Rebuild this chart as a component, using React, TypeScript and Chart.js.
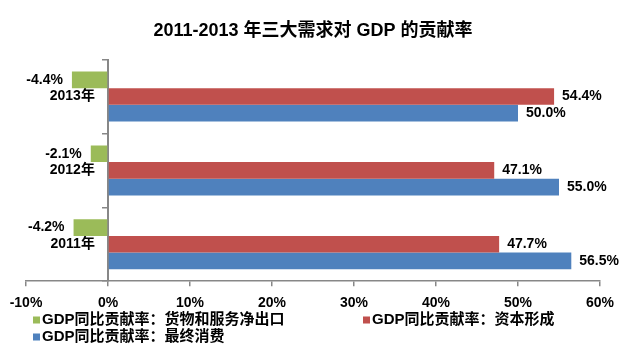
import React, { useEffect, useRef } from 'react';
import { Chart, registerables } from 'chart.js';

Chart.register(...registerables);

const chartTitle = '2011-2013 年三大需求对 GDP 的贡献率';
const categories = ['2013年', '2012年', '2011年'];
const netExports = [-4.4, -2.1, -4.2];
const capitalFormation = [54.4, 47.1, 47.7];
const finalConsumption = [50.0, 55.0, 56.5];
const seriesNames = [
  'GDP同比贡献率：货物和服务净出口',
  'GDP同比贡献率：资本形成',
  'GDP同比贡献率：最终消费',
];
const seriesColors = ['#9BBB59', '#C0504D', '#4F81BD'];
const xTickValues = [-10, 0, 10, 20, 30, 40, 50, 60];

const FONT = "'Liberation Sans', Arial, 'Noto Sans CJK SC', sans-serif";
const AXIS_GRAY = '#878787';

const valueLabels = {
  id: 'valueLabels',
  afterDatasetsDraw(chart: any) {
    const ctx = chart.ctx;
    ctx.save();
    ctx.font = `bold 14px ${FONT}`;
    ctx.fillStyle = '#000';
    ctx.textBaseline = 'middle';
    chart.data.datasets.forEach((ds: any, di: number) => {
      const meta = chart.getDatasetMeta(di);
      meta.data.forEach((el: any, i: number) => {
        const v = ds.data[i] as number;
        const text = v.toFixed(1) + '%';
        if (v < 0) {
          ctx.textAlign = 'right';
          ctx.fillText(text, el.x - 9, el.y);
        } else {
          ctx.textAlign = 'left';
          ctx.fillText(text, el.x + 8, el.y);
        }
      });
    });
    ctx.restore();
  },
};

const customLegend = {
  id: 'customLegend',
  afterDraw(chart: any) {
    const ctx = chart.ctx;
    const h = chart.height;
    const slots = [
      { x: 33, y: h - 31 },
      { x: 363, y: h - 31 },
      { x: 33, y: h - 14 },
    ];
    ctx.save();
    ctx.font = `bold 15px ${FONT}`;
    ctx.textBaseline = 'middle';
    ctx.textAlign = 'left';
    chart.data.datasets.forEach((ds: any, i: number) => {
      const s = slots[i];
      ctx.fillStyle = ds.backgroundColor;
      ctx.fillRect(s.x, s.y - 3.5, 7, 7);
      ctx.fillStyle = '#000';
      ctx.fillText(ds.label, s.x + 9, s.y);
    });
    ctx.restore();
  },
};

export default function App() {
  const canvasRef = useRef<HTMLCanvasElement | null>(null);

  useEffect(() => {
    if (!canvasRef.current) return;
    const chart = new Chart(canvasRef.current, {
      type: 'bar',
      data: {
        labels: categories,
        datasets: [
          { label: seriesNames[0], data: netExports, backgroundColor: seriesColors[0] },
          { label: seriesNames[1], data: capitalFormation, backgroundColor: seriesColors[1] },
          { label: seriesNames[2], data: finalConsumption, backgroundColor: seriesColors[2] },
        ],
      },
      options: {
        indexAxis: 'y',
        responsive: false,
        maintainAspectRatio: false,
        animation: false,
        devicePixelRatio: 1,
        layout: { padding: { left: 26, right: 31, top: 0, bottom: 30 } },
        datasets: { bar: { categoryPercentage: 0.677, barPercentage: 1 } },
        plugins: {
          legend: { display: false },
          tooltip: { enabled: false },
          title: {
            display: true,
            text: chartTitle,
            color: '#000',
            font: { size: 18, weight: 'bold', family: FONT },
            padding: { top: 20, bottom: 18 },
          },
        },
        scales: {
          x: {
            type: 'linear',
            position: 'bottom',
            min: -10,
            max: 60,
            afterBuildTicks: (axis: any) => {
              axis.ticks = xTickValues.map((v) => ({ value: v }));
            },
            ticks: {
              callback: (v: any) => `${v}%`,
              color: '#000',
              font: { size: 14, weight: 'bold', family: FONT },
              padding: 9,
              maxRotation: 0,
              autoSkip: false,
            },
            grid: { drawOnChartArea: false, drawTicks: true, tickLength: 5, color: AXIS_GRAY, lineWidth: 1.5 },
            border: { color: AXIS_GRAY, width: 1.5 },
          },
          y: {
            type: 'category',
            axis: 'y',
            position: { x: 0 },
            ticks: { display: false },
            grid: { drawOnChartArea: false, drawTicks: true, tickLength: 5, color: AXIS_GRAY, lineWidth: 1.5, offset: true },
            border: { color: AXIS_GRAY, width: 2 },
          },
          yLabels: {
            type: 'category',
            axis: 'y',
            labels: categories,
            offset: true,
            position: { x: -1.6 },
            ticks: {
              color: '#000',
              font: { size: 14, weight: 'bold', family: FONT },
              padding: 0,
            },
            grid: { display: false, drawTicks: false },
            border: { display: false },
          },
        },
      } as any,
      plugins: [valueLabels, customLegend],
    });
    return () => chart.destroy();
  }, []);

  return (
    <div style={{ position: 'absolute', left: 0, top: 0, width: 631, height: 351, background: '#fff' }}>
      <canvas ref={canvasRef} width={631} height={351} style={{ width: 631, height: 351, display: 'block' }} />
    </div>
  );
}
